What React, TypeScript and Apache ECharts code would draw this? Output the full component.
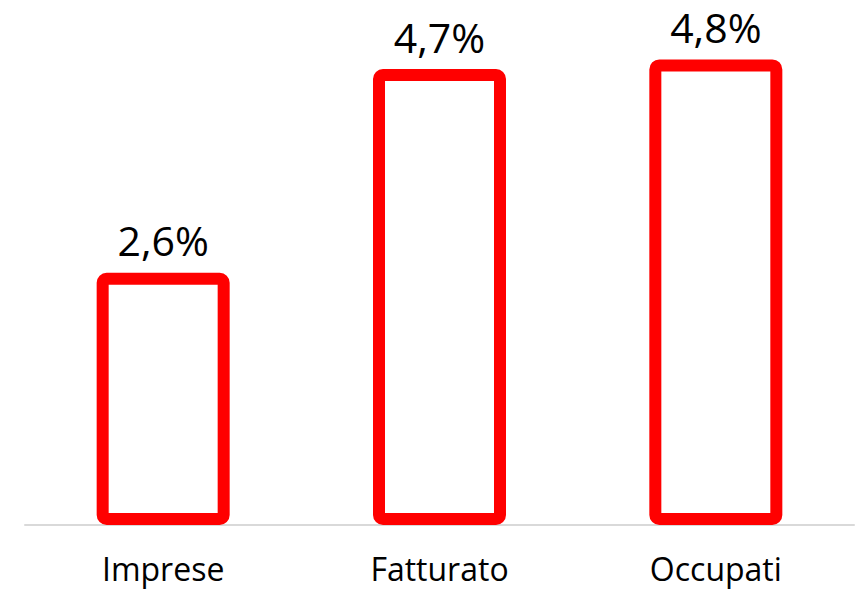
import React, { useEffect, useRef } from "react";
import * as echarts from "echarts";

const categories = ["Imprese", "Fatturato", "Occupati"];
const values = [2.6, 4.7, 4.8];

export default function App() {
  const ref = useRef<HTMLDivElement>(null);
  useEffect(() => {
    if (!ref.current) return;
    const chart = echarts.init(ref.current, null, { renderer: "svg" });
    chart.setOption({
      animation: false,
      backgroundColor: "#ffffff",
      grid: { left: 25, right: 7, top: 40, bottom: 67, containLabel: false },
      xAxis: {
        type: "category",
        data: categories,
        axisLine: { show: true, lineStyle: { color: "#d9d9d9", width: 2 } },
        axisTick: { show: false },
        axisLabel: {
          color: "#000000",
          fontFamily: "Open Sans",
          fontSize: 32,
          margin: 27,
        },
      },
      yAxis: {
        type: "value",
        min: 0,
        max: 5,
        show: false,
        splitLine: { show: false },
      },
      series: [
        {
          type: "bar",
          data: values,
          barWidth: 133,
          itemStyle: {
            color: "#ffffff",
            borderColor: "#ff0000",
            borderWidth: 12,
            borderRadius: 4,
          },
          label: {
            show: true,
            position: "top",
            distance: 12,
            color: "#000000",
            fontFamily: "Open Sans",
            fontSize: 41,
            formatter: (p: any) => p.value.toFixed(1).replace(".", ",") + "%",
          },
        },
      ],
    });
    return () => chart.dispose();
  }, []);
  return (
    <div
      ref={ref}
      style={{ width: 861, height: 592, position: "absolute", left: 0, top: 0 }}
    />
  );
}
